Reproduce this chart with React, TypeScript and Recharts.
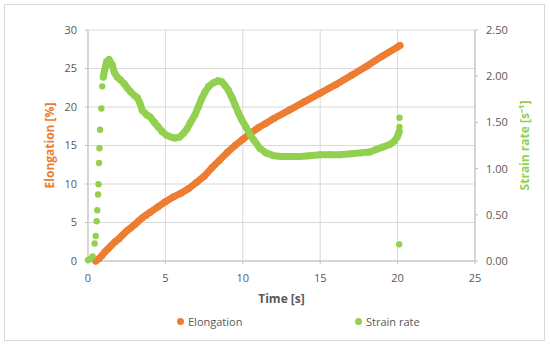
import React from 'react';
import { ScatterChart, Scatter, XAxis, YAxis, CartesianGrid, Legend } from 'recharts';

const ORANGE = '#ED7D31';
const GREEN = '#92D050';
const FONT = '"Open Sans", "Liberation Sans", sans-serif';

const timeTicks = [0, 5, 10, 15, 20, 25];
const elongTicks = [0, 5, 10, 15, 20, 25, 30];
const rateTicks = [0, 0.5, 1, 1.5, 2, 2.5];

const elongTime = [0.5, 0.7, 0.9, 1.1, 1.3, 1.5, 1.75, 2.0, 2.25, 2.5, 2.75, 3.0, 3.25, 3.5, 3.75, 4.0, 4.5, 5.0, 5.5, 6.0, 6.5, 7.0, 7.5, 8.0, 8.5, 9.0, 9.5, 10.0, 10.5, 11.0, 11.5, 12.0, 13, 14, 15, 16, 17, 18, 19, 20, 20.15];
const elongValues = [0, 0.3, 0.7, 1.2, 1.6, 2.0, 2.5, 2.9, 3.4, 3.9, 4.3, 4.7, 5.15, 5.6, 5.95, 6.3, 7.0, 7.7, 8.3, 8.8, 9.4, 10.2, 11.0, 12.1, 13.1, 14.1, 15.0, 15.8, 16.6, 17.3, 17.9, 18.5, 19.6, 20.7, 21.8, 22.9, 24.1, 25.3, 26.6, 27.8, 28.0];

const rateTime = [0.99, 1.08, 1.21, 1.36, 1.57, 1.7, 1.89, 2.1, 2.33, 2.55, 2.76, 3.0, 3.18, 3.35, 3.51, 3.8, 4.0, 4.3, 4.54, 4.8, 5.08, 5.4, 5.62, 5.9, 6.16, 6.4, 6.59, 6.9, 7.13, 7.35, 7.56, 7.8, 8.1, 8.4, 8.64, 8.85, 9.06, 9.3, 9.5, 9.7, 9.93, 10.2, 10.47, 10.7, 11.1, 11.5, 12.0, 12.5, 13.0, 13.7, 14.3, 15.0, 15.6, 16.3, 17.0, 17.6, 18.2, 18.65, 19.0, 19.5, 19.8, 20.0, 20.1];
const rateValues = [1.99, 2.07, 2.16, 2.18, 2.12, 2.04, 1.99, 1.96, 1.92, 1.87, 1.83, 1.79, 1.77, 1.71, 1.63, 1.58, 1.56, 1.5, 1.45, 1.4, 1.36, 1.34, 1.33, 1.34, 1.38, 1.43, 1.49, 1.58, 1.67, 1.76, 1.83, 1.89, 1.93, 1.95, 1.94, 1.9, 1.85, 1.77, 1.69, 1.61, 1.53, 1.45, 1.37, 1.31, 1.22, 1.17, 1.14, 1.13, 1.13, 1.13, 1.14, 1.15, 1.15, 1.15, 1.16, 1.17, 1.18, 1.21, 1.23, 1.26, 1.3, 1.35, 1.4];

const sparseTime = [0.0, 0.12, 0.3, 0.43, 0.5, 0.56, 0.6, 0.65, 0.68, 0.71, 0.74, 0.78, 0.86, 0.92, 20.1, 20.12, 20.12];
const sparseValues = [0.01, 0.02, 0.05, 0.19, 0.27, 0.43, 0.55, 0.72, 0.83, 1.06, 1.22, 1.42, 1.65, 1.89, 0.18, 1.45, 1.55];

const elongData = elongTime.map((t, i) => ({ t, v: elongValues[i] }));
const rateData = rateTime.map((t, i) => ({ t, v: rateValues[i] }));
const sparseData = sparseTime.map((t, i) => ({ t, v: sparseValues[i] }));

const dot = (color: string, r: number) => (props: any) =>
  <circle cx={props.cx} cy={props.cy} r={r} fill={color} />;

const tickStyle = { fill: '#595959', fontSize: 11, fontFamily: FONT };
const axisLine = { stroke: '#BFBFBF' };

const LegendContent = () => (
  <div style={{ position: 'relative', height: 20, fontFamily: FONT, fontSize: 11, color: '#595959' }}>
    <div style={{ position: 'absolute', left: 177, top: 3, display: 'flex', alignItems: 'center' }}>
      <span style={{ width: 7, height: 7, borderRadius: 4, background: ORANGE, display: 'inline-block', marginRight: 4 }} />
      Elongation
    </div>
    <div style={{ position: 'absolute', left: 355, top: 3, display: 'flex', alignItems: 'center' }}>
      <span style={{ width: 7, height: 7, borderRadius: 4, background: GREEN, display: 'inline-block', marginRight: 4 }} />
      Strain rate
    </div>
  </div>
);

export default function App() {
  return (
    <div style={{ position: 'absolute', left: 0, top: 0, width: 550, height: 346, background: '#fff' }}>
      <div style={{ position: 'absolute', left: 4, top: 4, width: 541, height: 337, border: '1px solid #D9D9D9', boxSizing: 'border-box' }} />
      <div style={{ position: 'absolute', left: 0, top: 0 }}>
        <ScatterChart width={550} height={346} margin={{ top: 30, right: 0, bottom: 15, left: 0 }}>
          <CartesianGrid yAxisId="left" stroke="#D9D9D9" />
          <XAxis type="number" dataKey="t" domain={[0, 25]} ticks={timeTicks} height={50}
            tick={tickStyle} tickSize={3} tickMargin={10} axisLine={axisLine} tickLine={axisLine}
            label={{ value: 'Time [s]', position: 'center', dy: 13, fill: '#595959', fontSize: 12, fontWeight: 700, fontFamily: FONT }} />
          <YAxis yAxisId="left" type="number" dataKey="v" domain={[0, 30]} ticks={elongTicks} width={88}
            tick={tickStyle} tickSize={3} tickMargin={8} axisLine={axisLine} tickLine={axisLine}
            label={{ value: 'Elongation [%]', angle: -90, position: 'center', dx: 6, fill: ORANGE, fontSize: 12, fontWeight: 700, fontFamily: FONT }} />
          <YAxis yAxisId="right" orientation="right" type="number" dataKey="v" domain={[0, 2.5]} ticks={rateTicks} width={75}
            tickFormatter={(v: number) => v.toFixed(2)}
            tick={tickStyle} tickSize={3} tickMargin={8} axisLine={axisLine} tickLine={axisLine}
            label={{ value: 'Strain rate [s⁻¹]', angle: -90, position: 'center', dx: 12, fill: GREEN, fontSize: 12, fontWeight: 700, fontFamily: FONT }} />
          <Scatter name="Elongation" yAxisId="left" data={elongData} fill={ORANGE} isAnimationActive={false}
            line={{ stroke: ORANGE, strokeWidth: 7, strokeLinecap: 'round', strokeLinejoin: 'round' }}
            shape={dot(ORANGE, 3.5)} legendType="circle" />
          <Scatter name="Strain rate" yAxisId="right" data={rateData} fill={GREEN} isAnimationActive={false}
            line={{ stroke: GREEN, strokeWidth: 7, strokeLinecap: 'round', strokeLinejoin: 'round' }}
            shape={dot(GREEN, 3.5)} legendType="circle" />
          <Scatter name="Strain rate sparse" yAxisId="right" data={sparseData} fill={GREEN} isAnimationActive={false}
            shape={dot(GREEN, 3.2)} legendType="none" />
          <Legend verticalAlign="bottom" height={20} content={LegendContent} />
        </ScatterChart>
      </div>
    </div>
  );
}
